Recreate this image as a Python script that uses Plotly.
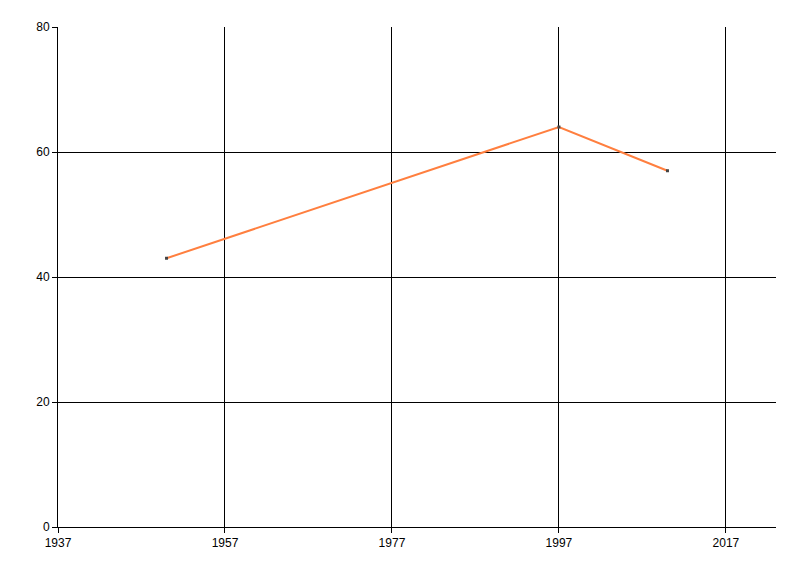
import plotly.graph_objects as go

years = [1950, 1997, 2010]
values = [43, 64, 57]
x_ticks = [1937, 1957, 1977, 1997, 2017]
y_ticks = [0, 20, 40, 60, 80]

fig = go.Figure()
fig.add_trace(go.Scatter(
    x=years, y=values, mode="lines+markers",
    line=dict(color="#FF7F3F", width=2),
    marker=dict(color="#444444", size=3, symbol="square"),
    showlegend=False,
))

axis_common = dict(
    showgrid=True, gridcolor="black", gridwidth=1,
    showline=True, linecolor="black", linewidth=1,
    ticks="outside", ticklen=5, tickcolor="black",
    tickfont=dict(family="Liberation Sans, Arial", size=12, color="black"),
    zeroline=False, automargin=False,
)
fig.update_xaxes(range=[1937, 2023], tickvals=x_ticks, **axis_common)
fig.update_yaxes(range=[0, 80], tickvals=y_ticks, **axis_common)

fig.update_layout(
    width=800, height=576,
    margin=dict(l=50, r=32, t=19, b=57),
    plot_bgcolor="white", paper_bgcolor="white",
)
fig.write_html("out.html")
